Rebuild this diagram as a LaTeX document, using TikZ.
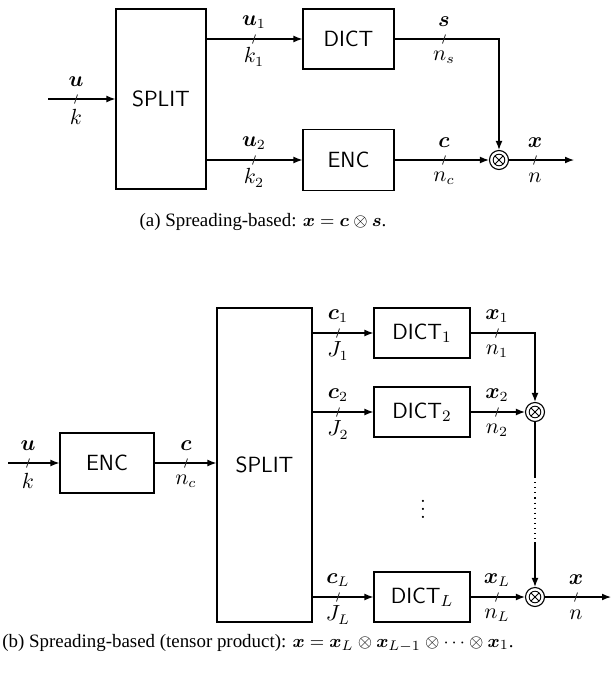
\documentclass[tikz,border=0pt]{standalone}
\usepackage{amsmath,bm}
\usepackage{fontspec}
\newfontfamily\capfont{Liberation Serif}
\usetikzlibrary{arrows.meta}
\newcommand\buslabel[5]{%
  \draw[slashmark] (#2-1.5,#3+4.5) -- (#2+1.5,#3-4.5);
  \node[lbl] (#1a) at (#2,#3-17) {#4};
  \node[lbl] (#1b) at (#2,#3+18) {#5};}
\tikzset{
  blk/.style={draw, line width=0.55pt, rectangle, inner sep=0pt, font=\sffamily\fontsize{11}{13}\selectfont},
  lbl/.style={inner sep=0pt, font=\fontsize{10.5}{12}\selectfont},
  slashmark/.style={line width=0.45pt, draw=black!80},
  conn/.style={line width=0.55pt, -{Latex[length=4.5pt,width=3.4pt]}},
  wire/.style={line width=0.55pt},
  mult/.style={circle, draw, line width=0.55pt, minimum size=9.5pt, inner sep=0pt,
    path picture={
      \draw[line width=0.45pt] (path picture bounding box.center) circle (2.9pt);
      \draw[line width=0.45pt] ([shift={(-2.05pt,-2.05pt)}]path picture bounding box.center) -- ([shift={(2.05pt,2.05pt)}]path picture bounding box.center);
      \draw[line width=0.45pt] ([shift={(-2.05pt,2.05pt)}]path picture bounding box.center) -- ([shift={(2.05pt,-2.05pt)}]path picture bounding box.center);
    }},
  captext/.style={inner sep=0pt, font=\capfont\fontsize{9.45}{11}\selectfont}
}
\begin{document}
\begin{tikzpicture}[x=0.5pt,y=-0.5pt]
\useasboundingbox (0,0) rectangle (611,675);
% ---------- (a) ----------
\node[blk, minimum width=45pt, minimum height=90pt] (split1) at (161,99) {SPLIT};
\node[blk, minimum width=45.5pt, minimum height=30pt] (dict) at (348.5,39) {DICT};
\node[blk, minimum width=45.5pt, minimum height=30.5pt] (enc1) at (348.5,160) {ENC};
\node[mult] (ot1) at (499,160) {};
\coordinate (in1) at (48,99);
\coordinate (out1) at (574,160);
\draw[conn] (in1) -- (split1.west);
\draw[conn] (split1.east |- dict.west) -- (dict.west);
\draw[conn] (split1.east |- enc1.west) -- (enc1.west);
\draw[conn] (dict.east) -| (ot1.north);
\draw[conn] (enc1.east) -- (ot1.west);
\draw[conn] (ot1.east) -- (out1);
\buslabel{la}{76}{99}{$\bm{u}$}{$k$}
\buslabel{lb}{254}{39}{$\bm{u}_1$}{$k_1$}
\buslabel{lc}{254}{160}{$\bm{u}_2$}{$k_2$}
\buslabel{ld}{444}{39}{$\bm{s}$}{$n_s$}
\buslabel{le}{444}{160}{$\bm{c}$}{$n_c$}
\buslabel{lf}{535}{160}{$\bm{x}$}{$n$}
\node[captext] (capa) at (263,222) {(a) Spreading-based: $\bm{x}=\bm{c}\otimes\bm{s}$.};
% ---------- (b) ----------
\node[blk, minimum width=47pt, minimum height=30pt] (enc2) at (107,463) {ENC};
\node[blk, minimum width=47.5pt, minimum height=157pt] (split2) at (264.5,465) {SPLIT};
\node[blk, minimum width=48pt, minimum height=25pt] (dict1) at (422,333) {DICT$_1$};
\node[blk, minimum width=48pt, minimum height=25pt] (dict2) at (422,412) {DICT$_2$};
\node[blk, minimum width=48pt, minimum height=25pt] (dictL) at (422,597) {DICT$_L$};
\node[mult] (ot2) at (535,412) {};
\node[mult] (otL) at (535,597) {};
\node[lbl] (vdots) at (423,503) {$\vdots$};
\coordinate (in2) at (8,463);
\coordinate (out2) at (611,597);
\coordinate (d1) at (535,477);
\coordinate (d2) at (535,542);
\draw[conn] (in2) -- (enc2.west);
\draw[conn] (enc2.east) -- (split2.west |- enc2.east);
\draw[conn] (split2.east |- dict1.west) -- (dict1.west);
\draw[conn] (split2.east |- dict2.west) -- (dict2.west);
\draw[conn] (split2.east |- dictL.west) -- (dictL.west);
\draw[conn] (dict1.east) -| (ot2.north);
\draw[conn] (dict2.east) -- (ot2.west);
\draw[conn] (dictL.east) -- (otL.west);
\draw[wire] (ot2.south) -- (d1);
\draw[wire, dotted] (d1) -- (d2);
\draw[conn] (d2) -- (otL.north);
\draw[conn] (otL.east) -- (out2);
\buslabel{lg}{28}{463}{$\bm{u}$}{$k$}
\buslabel{lh}{186}{463}{$\bm{c}$}{$n_c$}
\buslabel{li}{338}{333}{$\bm{c}_1$}{$J_1$}
\buslabel{lj}{338}{412}{$\bm{c}_2$}{$J_2$}
\buslabel{lk}{338}{597}{$\bm{c}_L$}{$J_L$}
\buslabel{ll}{497}{333}{$\bm{x}_1$}{$n_1$}
\buslabel{lm}{497}{412}{$\bm{x}_2$}{$n_2$}
\buslabel{ln}{497}{597}{$\bm{x}_L$}{$n_L$}
\buslabel{lo}{576}{597}{$\bm{x}$}{$n$}
\node[captext] (capb) at (258,643) {(b) Spreading-based (tensor product): $\bm{x}=\bm{x}_L\otimes\bm{x}_{L-1}\otimes\cdots\otimes\bm{x}_1$.};
\end{tikzpicture}
\end{document}
